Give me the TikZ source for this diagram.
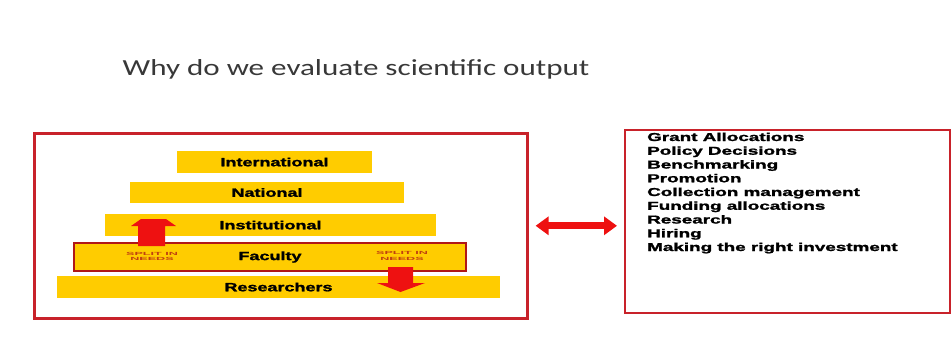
\documentclass[tikz,border=0pt]{standalone}
\usepackage{fontspec}
\setmainfont{Liberation Sans}
\newfontfamily\titlefont{Carlito}
\newfontfamily\heavyfont[FakeBold=1.4]{Liberation Sans Bold}
\usetikzlibrary{arrows.meta}
\definecolor{barY}{HTML}{FFCC00}
\definecolor{boxR}{HTML}{C8222A}
\definecolor{facR}{HTML}{B01818}
\definecolor{arrR}{HTML}{EE1111}
\definecolor{splitC}{HTML}{C04010}
\definecolor{titleC}{HTML}{383838}
\newcommand\hstretch[2]{\scalebox{#1}[1]{#2}}
\begin{document}
\begin{tikzpicture}[x=1pt,y=-1pt,
  bar/.style={fill=barY, inner sep=0pt, minimum height=22pt,
    font=\heavyfont\fontsize{12}{14}\selectfont},
  panel/.style={draw=boxR, line width=2.6pt, inner sep=0pt},
  splittext/.style={text=splitC, font=\bfseries\fontsize{4.5}{5.5}\selectfont, align=center, inner sep=0pt},
  blockarrow/.style={fill=arrR, draw=none},
  dblarrow/.style={draw=arrR, line width=7pt,
    {Triangle[length=13pt,width=18pt]}-{Triangle[length=13pt,width=18pt]}}
]
\useasboundingbox (0,0) rectangle (952,353);

% title
\node[font=\titlefont\fontsize{23}{27}\selectfont, text=titleC, anchor=base] (title) at (356,75)
  {\hstretch{1.35}{Why do we evaluate scientific output}};

% left panel
\node[panel, minimum width=493pt, minimum height=185pt, anchor=north west] (lbox) at (33,132) {};

% pyramid bars
\node[bar, minimum width=195pt] (intl) at (274.5,162) {\hstretch{1.5}{International}};
\node[bar, minimum width=274pt, minimum height=21pt] (natl) at (267,192.5) {\hstretch{1.5}{National}};
\node[bar, minimum width=331pt] (inst) at (270.5,225) {\hstretch{1.5}{Institutional}};
\node[bar, draw=facR, line width=2pt, minimum width=392pt, minimum height=28pt] (fac) at (270,257) {\hstretch{1.5}{Faculty}};
\node[bar, minimum width=443pt] (res) at (278.5,287) {\hstretch{1.5}{Researchers}};

% split labels
\node[splittext] (splitL) at (152,256.5) {\hstretch{2.8}{SPLIT IN}\\\hstretch{2.8}{NEEDS}};
\node[splittext] (splitR) at (402,256) {\hstretch{2.8}{SPLIT IN}\\\hstretch{2.8}{NEEDS}};

% up arrow
\fill[blockarrow] (138,246) -- (138,226) -- (131,226) -- (141,219) -- (166,219) -- (176,226) -- (165,226) -- (165,246) -- cycle;
% down arrow
\fill[blockarrow] (388,267) -- (413,267) -- (413,283) -- (425,283) -- (400.5,292) -- (377,283) -- (388,283) -- cycle;

% right panel
\node[panel, line width=2.2pt, minimum width=325pt, minimum height=183pt, anchor=north west] (rbox) at (624,129) {};

\node[anchor=base west, inner sep=0pt, font=\heavyfont\fontsize{11.5}{13.75}\selectfont] (list) at (647,141)
  {\hstretch{1.64}{\begin{tabular}[t]{@{}l@{}}
  Grant Allocations\\
  Policy Decisions\\
  Benchmarking\\
  Promotion\\
  Collection management\\
  Funding allocations\\
  Research\\
  Hiring\\
  Making the right investment
  \end{tabular}}};

% double arrow
\draw[dblarrow, shorten <=7pt, shorten >=7pt] (lbox.east) -- (lbox.east -| rbox.west);
\end{tikzpicture}
\end{document}
